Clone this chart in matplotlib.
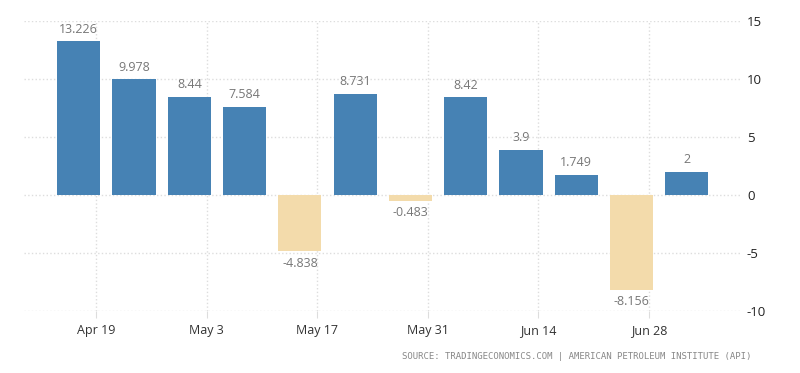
import numpy as np
import matplotlib
matplotlib.use("Agg")
import matplotlib.pyplot as plt

# weekly API crude stock change (million barrels)
values = [13.226, 9.978, 8.44, 7.584, -4.838, 8.731, -0.483, 8.42, 3.9, 1.749, -8.156, 2]
tick_labels = ['Apr 19', 'May 3', 'May 17', 'May 31', 'Jun 14', 'Jun 28']
yticks = [-10, -5, 0, 5, 10, 15]
source = 'SOURCE: TRADINGECONOMICS.COM | AMERICAN PETROLEUM INSTITUTE (API)'

pos_color = '#4682b4'
neg_color = '#f3dbab'

fig = plt.figure(figsize=(8, 3.73), dpi=100, facecolor='w')
ax = fig.add_axes([0.03, 0.166, 0.895, 0.778])

x = np.arange(len(values))
colors = [pos_color if v >= 0 else neg_color for v in values]
ax.bar(x, values, width=0.78, color=colors, zorder=3)

for xi, v in zip(x, values):
    if v >= 0:
        ax.annotate(f'{v:g}', (xi, v), xytext=(0, 4), textcoords='offset points',
                    ha='center', va='bottom', fontsize=9, color='#777777',
                    family='Open Sans')
    else:
        ax.annotate(f'{v:g}', (xi, v), xytext=(0, -4), textcoords='offset points',
                    ha='center', va='top', fontsize=9, color='#777777',
                    family='Open Sans')

ax.set_xlim(-0.99, len(values) - 0.04)
ax.set_ylim(-10, 15)
ax.set_xticks(0.315 + 2 * np.arange(len(tick_labels)))
ax.set_xticklabels(tick_labels, fontsize=9, color='#333333', family='Open Sans')
ax.set_yticks(yticks)
ax.set_yticklabels([str(t) for t in yticks], fontsize=9.5, color='#222222',
                   family='Open Sans')
ax.yaxis.tick_right()
ax.tick_params(axis='y', length=0, pad=5)
ax.tick_params(axis='x', length=5, color='#dddddd', pad=4)

ax.grid(True, color='#dddddd', linestyle=':', linewidth=1, zorder=0)
for s in ax.spines.values():
    s.set_visible(False)

fig.text(0.939, 0.045, source, ha='right', va='center', fontsize=6.5,
         color='#888888', family='DejaVu Sans Mono')

fig.savefig('out.png', dpi=100, facecolor='w')
